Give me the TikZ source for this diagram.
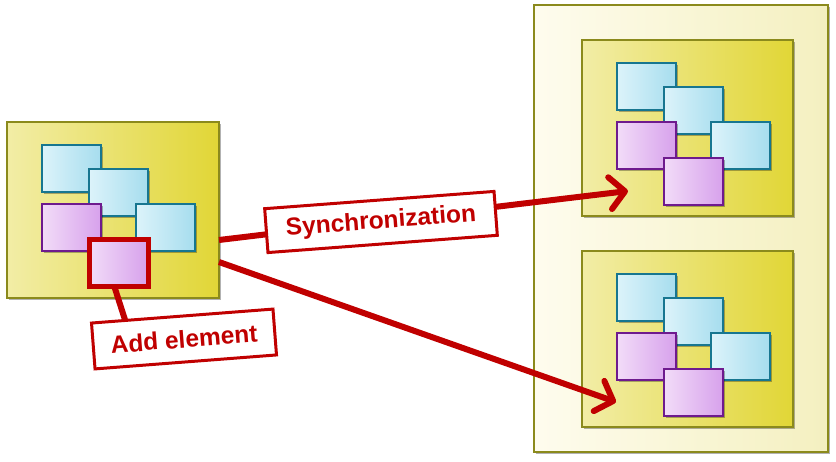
\documentclass[tikz,border=0pt]{standalone}
\usepackage{fontspec}
\setmainfont{Liberation Sans}
\usetikzlibrary{arrows.meta,shadows,calc}
\definecolor{myred}{HTML}{C00000}
\definecolor{olv}{HTML}{8B8A1C}
\definecolor{yl}{HTML}{F2EDA6}
\definecolor{yr}{HTML}{E1D636}
\definecolor{pl}{HTML}{FEFCEE}
\definecolor{pr}{HTML}{F4F0C0}
\definecolor{bl}{HTML}{DCF3FA}
\definecolor{br}{HTML}{A6DDEE}
\definecolor{bb}{HTML}{177690}
\definecolor{ml}{HTML}{F2DCF8}
\definecolor{mr}{HTML}{D7A1EC}
\definecolor{mb}{HTML}{6E1A8E}
\tikzset{
  shad/.style={drop shadow={shadow xshift=2pt,shadow yshift=-2pt,opacity=.3,fill=black}},
  panelbox/.style={draw=olv,line width=2pt,left color=pl,right color=pr,outer sep=0pt,inner sep=0pt,shad},
  ybox/.style={draw=olv,line width=2pt,left color=yl,right color=yr,outer sep=0pt,inner sep=0pt,shad},
  bluebox/.style={draw=bb,line width=2pt,left color=bl,right color=br,minimum width=59pt,minimum height=47pt,inner sep=0pt,outer sep=0pt,shad},
  purplebox/.style={draw=mb,line width=2pt,left color=ml,right color=mr,minimum width=59pt,minimum height=47pt,inner sep=0pt,outer sep=0pt,shad},
  redbox/.style={purplebox,draw=myred,line width=5pt},
  lbl/.style={draw=myred,line width=3pt,fill=white,text=myred,inner sep=0pt,font=\bfseries\fontsize{24.5}{28}\selectfont},
  arr/.style={draw=myred,line width=6pt,-{Straight Barb[length=15pt,width=32pt,round]}},
  conn/.style={draw=myred,line width=6pt},
  stack/.pic={
    \node[bluebox] (-b1) at (64.5,46.5) {};
    \node[bluebox] (-b2) at (111.5,70.5) {};
    \node[purplebox] (-p1) at (64.5,105.5) {};
    \node[bluebox] (-b3) at (158.5,105.5) {};
    \node[purplebox] (-p2) at (111.5,141.5) {};
  }
}
\begin{document}
\begin{tikzpicture}[x=1pt,y=-1pt]
\useasboundingbox (0,0) rectangle (836,462);
% right panel
\node[panelbox,minimum width=294pt,minimum height=447pt] (P) at (681,228.5) {};
\node[ybox,minimum width=211pt,minimum height=176pt] (T) at (687.5,128) {};
\node[ybox,minimum width=211pt,minimum height=176pt] (B) at (687.5,339) {};
\pic (ts) at (T.north west) {stack};
\pic (bs) at (B.north west) {stack};
% left box
\node[ybox,minimum width=212pt,minimum height=176pt] (L) at (113,210) {};
\pic (ls) at (L.north west) {stack};
\node[redbox] (R) at (ls-p2) {};
% connectors
\coordinate (s1) at (219,240);
\coordinate (s2) at (219,262);
\coordinate (t1) at (628,191);
\coordinate (t2) at (616,402);
\coordinate (a1) at (127,326);
\draw[arr] (s1) -- (t1);
\draw[arr] (s2) -- (t2);
\draw[conn] ([xshift=-4pt]R.south) -- (a1);
% labels
\node[lbl,rotate=4.3,minimum width=230pt,minimum height=44pt] (S) at (381,222) {Synchronization};
\node[lbl,rotate=4.4,minimum width=182pt,minimum height=46pt] (A) at (184,339) {Add element};
\end{tikzpicture}
\end{document}
